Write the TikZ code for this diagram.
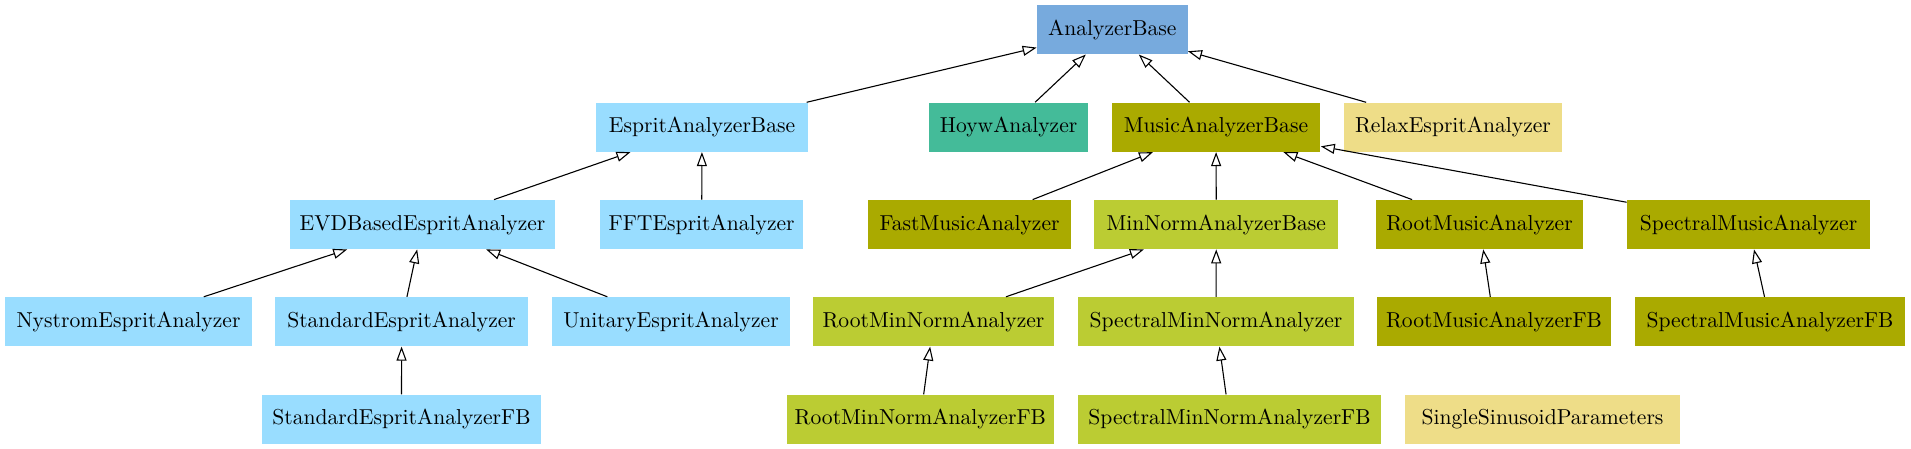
\documentclass[tikz,border=0pt]{standalone}
\usetikzlibrary{arrows.meta}
\definecolor{cBase}{HTML}{77AADD}
\definecolor{cEsprit}{HTML}{99DDFF}
\definecolor{cHoyw}{HTML}{44BB99}
\definecolor{cMusic}{HTML}{AAAA00}
\definecolor{cMinNorm}{HTML}{BBCC33}
\definecolor{cRelax}{HTML}{EEDD88}
\tikzset{
  cls/.style={rectangle, inner sep=0pt, minimum height=24.5pt, font=\fontsize{10.8}{12}\selectfont},
  inh/.style={draw=black, line width=0.55pt, -{Triangle[open, length=7pt, width=5pt]}},
}
\begin{document}
\begin{tikzpicture}[x=0.5pt, y=-0.5pt]
\useasboundingbox (0,0) rectangle (1911,449);
% row 0
\node[cls, fill=cBase, minimum width=75.25pt] (base) at (1112.3,29.6) {AnalyzerBase};
% row 1
\node[cls, fill=cEsprit, minimum width=106.25pt] (espritbase) at (702,127.2) {EspritAnalyzerBase};
\node[cls, fill=cHoyw, minimum width=79.8pt] (hoyw) at (1008.6,127.2) {HoywAnalyzer};
\node[cls, fill=cMusic, minimum width=104.4pt] (musicbase) at (1216,127.2) {MusicAnalyzerBase};
\node[cls, fill=cRelax, minimum width=109.25pt] (relax) at (1453,127.2) {RelaxEspritAnalyzer};
% row 2
\node[cls, fill=cEsprit, minimum width=132.5pt] (evd) at (422.5,224.5) {EVDBasedEspritAnalyzer};
\node[cls, fill=cEsprit, minimum width=101.75pt] (fft) at (701.7,224.5) {FFTEspritAnalyzer};
\node[cls, fill=cMusic, minimum width=101.6pt] (fastmusic) at (969.6,224.5) {FastMusicAnalyzer};
\node[cls, fill=cMinNorm, minimum width=121.85pt] (minnormbase) at (1216.3,224.5) {MinNormAnalyzerBase};
\node[cls, fill=cMusic, minimum width=103.5pt] (rootmusic) at (1479.5,224.5) {RootMusicAnalyzer};
\node[cls, fill=cMusic, minimum width=121.5pt] (spectralmusic) at (1748.5,224.5) {SpectralMusicAnalyzer};
% row 3
\node[cls, fill=cEsprit, minimum width=123.5pt] (nystrom) at (128.5,321.7) {NystromEspritAnalyzer};
\node[cls, fill=cEsprit, minimum width=126.15pt] (standard) at (401.6,321.7) {StandardEspritAnalyzer};
\node[cls, fill=cEsprit, minimum width=119pt] (unitary) at (671,321.7) {UnitaryEspritAnalyzer};
\node[cls, fill=cMinNorm, minimum width=120.5pt] (rootminnorm) at (933.5,321.7) {RootMinNormAnalyzer};
\node[cls, fill=cMinNorm, minimum width=138pt] (spectralminnorm) at (1216,321.7) {SpectralMinNormAnalyzer};
\node[cls, fill=cMusic, minimum width=117pt] (rootmusicfb) at (1494,321.7) {RootMusicAnalyzerFB};
\node[cls, fill=cMusic, minimum width=135pt] (spectralmusicfb) at (1770,321.7) {SpectralMusicAnalyzerFB};
% row 4
\node[cls, fill=cEsprit, minimum width=139.5pt] (standardfb) at (401.5,419.3) {StandardEspritAnalyzerFB};
\node[cls, fill=cMinNorm, minimum width=133.65pt] (rootminnormfb) at (920.3,419.3) {RootMinNormAnalyzerFB};
\node[cls, fill=cMinNorm, minimum width=151.5pt] (spectralminnormfb) at (1229.5,419.3) {SpectralMinNormAnalyzerFB};
\node[cls, fill=cRelax, minimum width=137.5pt] (single) at (1542.5,419.3) {SingleSinusoidParameters};
% edges
\draw[inh] (espritbase) -- (base);
\draw[inh] (hoyw) -- (base);
\draw[inh] (musicbase) -- (base);
\draw[inh] (relax) -- (base);
\draw[inh] (evd) -- (espritbase);
\draw[inh] (fft) -- (espritbase);
\draw[inh] (fastmusic) -- (musicbase);
\draw[inh] (minnormbase) -- (musicbase);
\draw[inh] (rootmusic) -- (musicbase);
\draw[inh] (spectralmusic) -- (musicbase);
\draw[inh] (nystrom) -- (evd);
\draw[inh] (standard) -- (evd);
\draw[inh] (unitary) -- (evd);
\draw[inh] (rootminnorm) -- (minnormbase);
\draw[inh] (spectralminnorm) -- (minnormbase);
\draw[inh] (rootmusicfb) -- (rootmusic);
\draw[inh] (spectralmusicfb) -- (spectralmusic);
\draw[inh] (standardfb) -- (standard);
\draw[inh] (rootminnormfb) -- (rootminnorm);
\draw[inh] (spectralminnormfb) -- (spectralminnorm);
\end{tikzpicture}
\end{document}
